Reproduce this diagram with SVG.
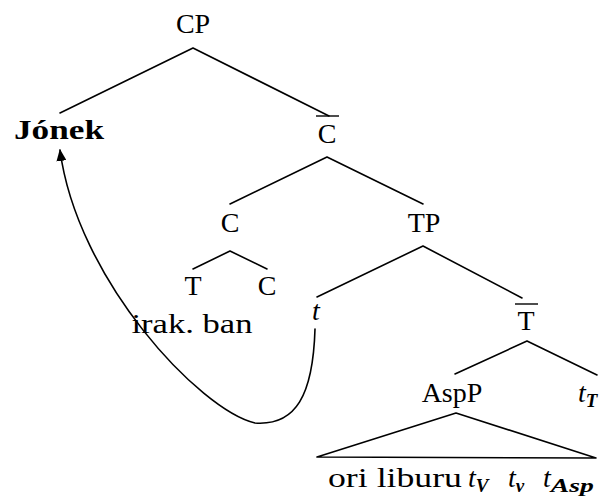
<svg xmlns="http://www.w3.org/2000/svg" width="605" height="498" viewBox="0 0 605 498">
<style>
text{font-family:'Liberation Serif','DejaVu Serif','Noto Serif',serif;font-size:28px;fill:#000;text-anchor:middle}
.b{font-weight:bold}
.i{font-style:italic}
.sub{font-size:19px;font-style:italic;font-weight:bold}
.e{stroke:#000;stroke-width:1.6;fill:none;stroke-linecap:round}
.bar{stroke:#000;stroke-width:1.4}
</style>
<defs>
<marker id="ah" markerWidth="12" markerHeight="10" refX="11" refY="5" orient="auto" markerUnits="userSpaceOnUse" viewBox="0 0 12 10">
<path d="M0,0 L12,5 L0,10 Z" fill="#000"/>
</marker>
</defs>
<rect width="605" height="498" fill="#fff"/>
<g id="connectors">
<path class="e" d="M193,48 L60,113 M193,48 L329,116"/>
<path class="e" d="M327,157 L230,204 M327,157 L423,204"/>
<path class="e" d="M230,251 L193,269 M230,251 L267,269"/>
<path class="e" d="M423,246 L317,297 M423,246 L522,298"/>
<path class="e" d="M527,341 L455,374 M527,341 L597,375"/>
<path class="e" d="M456,413 L317,457 L596,458 Z" stroke-linejoin="round"/>
<path class="e" d="M315,329 C313,395 296,426 255,423 C200,410 77,280 60,150" marker-end="url(#ah)"/>
</g>
<g id="CP"><text x="193" y="33">CP</text></g>
<g id="Jonek"><text class="b" x="59" y="139" textLength="90" lengthAdjust="spacingAndGlyphs">Jónek</text></g>
<g id="Cbar"><line class="bar" x1="316" y1="116" x2="339" y2="116"/><text x="327" y="143">C</text></g>
<g id="C"><text x="230" y="232">C</text></g>
<g id="TP"><text x="424" y="232">TP</text></g>
<g id="T"><text x="193" y="295">T</text></g>
<g id="C2"><text x="267" y="295">C</text></g>
<g id="irakban"><text x="192" y="333" textLength="121" lengthAdjust="spacingAndGlyphs">irak. ban</text></g>
<g id="t"><text class="i" x="316" y="320">t</text></g>
<g id="Tbar"><line class="bar" x1="515" y1="304" x2="538" y2="304"/><text x="526" y="330">T</text></g>
<g id="AspP"><text x="452" y="402">AspP</text></g>
<g id="tT"><text class="i" x="578" y="402" style="text-anchor:start">t<tspan class="sub" dy="5">T</tspan></text></g>
<g id="leaf">
<text x="328" y="487" style="text-anchor:start" textLength="134" lengthAdjust="spacingAndGlyphs">ori liburu</text>
<text class="i" x="468" y="487" style="text-anchor:start">t<tspan class="sub" dy="5">V</tspan></text>
<text class="i" x="508" y="487" style="text-anchor:start">t<tspan class="sub" dy="5">v</tspan></text>
<text class="i" x="543" y="487" style="text-anchor:start">t<tspan class="sub" dy="5" textLength="43" lengthAdjust="spacingAndGlyphs">Asp</tspan></text>
</g>
</svg>
